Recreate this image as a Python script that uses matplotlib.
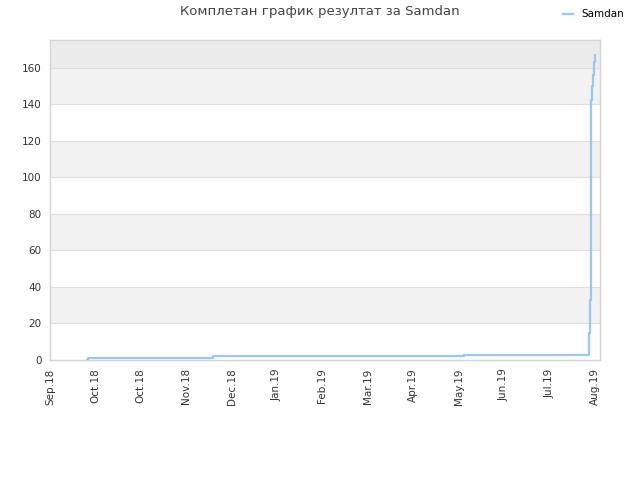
import matplotlib
matplotlib.use("Agg")
import matplotlib.pyplot as plt
import numpy as np

# x in days since start, ticks every 28 days
days = [23, 23.2, 100.5, 255.5, 332.2, 332.9, 333.5, 334.1, 334.7, 335.3, 335.9, 336.4]
results = [0, 1, 2, 3, 15, 33, 142.5, 150, 156, 163.5, 167, 167]
tick_labels = ["Sep.18", "Oct.18", "Oct.18", "Nov.18", "Dec.18", "Jan.19", "Feb.19",
               "Mar.19", "Apr.19", "May.19", "Jun.19", "Jul.19", "Aug.19"]
tick_step = 28
yticks = [0, 20, 40, 60, 80, 100, 120, 140, 160]

plt.rcParams['font.family'] = ['DejaVu Sans']

fig = plt.figure(figsize=(6.4, 4.8), dpi=100)
ax = fig.add_axes([50/640, 120/480, 550/640, 320/480])

ymax = 175.3
# alternating bands
for lo in range(20, 160, 40):
    ax.axhspan(lo, lo + 20, color="#f2f2f2", zorder=0, lw=0)
ax.axhspan(160, ymax, color="#ececec", zorder=0, lw=0)
for y in yticks[1:]:
    ax.axhline(y, color="#dedede", lw=0.8, zorder=1)

ax.plot(days, results, drawstyle="steps-post", color="#99c6f2", lw=1.6, zorder=3, label="Samdan")

ax.set_xlim(0, 550/45.4*tick_step)
ax.set_ylim(0, ymax)
ax.set_xticks(np.arange(len(tick_labels)) * tick_step)
ax.set_xticklabels(tick_labels, rotation=90)
ax.set_yticks(yticks)
ax.tick_params(length=0, labelsize=7.5, colors="#333333", pad=6)
for s in ax.spines.values():
    s.set_color("#d4d4d4")
    s.set_linewidth(1)

fig.text(0.5, 0.975, "Комплетан график резултат за Samdan", ha="center", va="center",
         fontsize=9.5, color="#444444")
fig.legend(loc="upper right", bbox_to_anchor=(0.99, 1.0), frameon=False, fontsize=7.5,
           handlelength=1.0, handletextpad=0.8)

fig.savefig("out.png", dpi=100)
